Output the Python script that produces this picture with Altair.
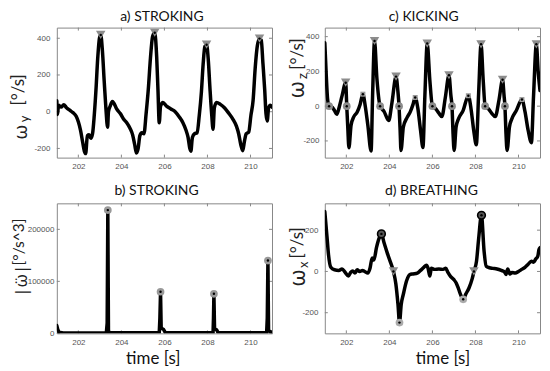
import altair as alt
import pandas as pd

# ---------------- data ----------------
x_ticks = [202, 204, 206, 208, 210]

# a) STROKING  (omega_y, deg/s)
a_t = [201.00, 201.03, 201.08, 201.20, 201.32, 201.45, 201.60, 201.75, 201.90, 202.00,
       202.10, 202.20, 202.28, 202.34, 202.42, 202.50, 202.58, 202.66, 202.74, 202.82,
       202.90, 202.98, 203.04, 203.12, 203.20, 203.28, 203.36, 203.40, 203.48, 203.58,
       203.66, 203.78, 203.95, 204.10, 204.25, 204.40, 204.52, 204.62, 204.70, 204.78,
       204.86, 204.95, 205.05, 205.15, 205.25, 205.35, 205.45, 205.55, 205.64, 205.70,
       205.76, 205.82, 205.93, 206.10, 206.30, 206.50, 206.70, 206.86, 207.00, 207.10,
       207.18, 207.23, 207.30, 207.40, 207.52, 207.62, 207.72, 207.80, 207.88, 207.96,
       208.04, 208.12, 208.20, 208.26, 208.32, 208.42, 208.60, 208.80, 209.00, 209.18,
       209.35, 209.45, 209.55, 209.64, 209.72, 209.80, 209.92, 210.02, 210.12, 210.22,
       210.32, 210.42, 210.50, 210.58, 210.66, 210.72, 210.78, 210.84, 210.92, 211.00]
a_v = [60, -15, 35, 25, 38, 22, 8, -5, -25, -55,
       -100, -165, -215, -228, -130, -125, -145, -120, -20, 120,
       290, 400, 418, 330, 170, 20, -85, 0, 30, 55,
       45, 15, -10, -40, -60, -90, -125, -180, -225, -200,
       -130, -115, -120, -10, 120, 290, 410, 430, 300, 120,
       -60, 30, 50, 30, 15, 0, -30, -60, -100, -140,
       -200, -215, -140, -120, -115, -20, 110, 260, 355, 365,
       280, 120, -20, -95, 20, 50, 40, 20, -10, -40,
       -80, -120, -180, -212, -160, -120, -110, -20, 60, 240,
       360, 398, 390, 260, 120, -10, -50, 20, 35, 25]
a_peak_t = [203.04, 205.55, 207.96, 210.42]
a_peak_v = [418, 430, 365, 398]

# b) STROKING  (|omega''|, deg/s^3)
b_t = [201.00, 201.04, 201.10, 201.30, 203.30, 203.34, 203.37, 203.40, 203.45, 205.76,
       205.79, 205.82, 205.85, 205.95, 206.05, 208.26, 208.28, 208.30, 208.33, 208.42,
       208.50, 210.75, 210.78, 210.81, 210.84, 211.00]
b_v = [15000, 8000, 2000, 600, 600, 20000, 237000, 5000, 1000, 1000,
       30000, 80000, 10000, 8000, 1000, 1000, 30000, 76000, 9000, 7000,
       1000, 1000, 30000, 140000, 5000, 2000]
b_peak_t = [203.37, 205.82, 208.30, 210.81]
b_peak_v = [237000, 80000, 76000, 140000]

# c) KICKING  (omega_z, deg/s)
c_t = [201.00, 201.07, 201.13, 201.20, 201.33, 201.45, 201.56, 201.68, 201.80, 201.97,
       202.02, 202.07, 202.12, 202.22, 202.35, 202.50, 202.64, 202.77, 202.88, 203.00,
       203.15, 203.22, 203.31, 203.42, 203.57, 203.75, 203.97, 204.12, 204.31, 204.40,
       204.45, 204.50, 204.54, 204.65, 204.82, 204.98, 205.10, 205.20, 205.32, 205.45,
       205.56, 205.65, 205.76, 205.88, 206.00, 206.15, 206.30, 206.44, 206.60, 206.77,
       206.86, 206.91, 206.96, 207.01, 207.10, 207.22, 207.42, 207.67, 207.80, 207.92,
       208.04, 208.15, 208.26, 208.36, 208.45, 208.60, 208.75, 208.92, 209.10, 209.26,
       209.33, 209.37, 209.42, 209.47, 209.58, 209.70, 209.90, 210.16, 210.30, 210.45,
       210.60, 210.70, 210.83, 210.92, 211.00]
c_v = [365, 170, 40, 0, -5, -25, -47, 0, 59, 135,
       0, -130, -239, -110, -60, -35, 10, 69, 0, -110,
       -258, 60, 375, 160, 0, -30, -83, 20, 170, 80,
       0, -140, -255, -120, -66, -30, 10, 50, -10, -140,
       -238, 60, 360, 150, 0, -15, -40, -60, 50, 178,
       60, 0, -160, -255, -120, -70, -27, 60, -20, -140,
       -222, 80, 356, 150, 0, -15, -40, -60, 40, 152,
       60, 0, -160, -255, -120, -70, -25, 38, -30, -140,
       -210, 60, 356, 190, 90]
c_tri_t = [201.97, 203.31, 204.31, 205.76, 206.77, 208.26, 209.26, 210.83]
c_tri_v = [135, 375, 170, 360, 178, 356, 152, 356]
c_circ_t = [201.20, 202.02, 203.57, 204.45, 206.00, 206.91, 208.45, 209.37]
c_circ_v = [0, 0, 0, 0, 0, 0, 0, 0]
c_sq_t = [202.77, 205.20, 207.67, 210.16]
c_sq_v = [69, 50, 60, 38]

# d) BREATHING  (omega_x, deg/s)
d_t = [201.00, 201.10, 201.17, 201.28, 201.45, 201.65, 201.80, 201.95, 202.10, 202.20,
       202.30, 202.40, 202.50, 202.62, 202.75, 202.85, 203.00, 203.10, 203.20, 203.28,
       203.40, 203.52, 203.63, 203.75, 203.90, 204.05, 204.19, 204.30, 204.40, 204.47,
       204.55, 204.65, 204.80, 204.95, 205.10, 205.30, 205.45, 205.60, 205.72, 205.80,
       205.88, 205.95, 206.10, 206.30, 206.50, 206.62, 206.72, 206.85, 207.00, 207.10,
       207.20, 207.30, 207.43, 207.55, 207.70, 207.85, 207.93, 208.05, 208.15, 208.28,
       208.40, 208.50, 208.65, 208.80, 209.00, 209.20, 209.35, 209.42, 209.50, 209.60,
       209.70, 209.85, 210.00, 210.15, 210.30, 210.45, 210.60, 210.70, 210.80, 210.90,
       210.95, 211.00]
d_v = [290, 170, 83, 20, 8, 5, 12, -5, -22, -5,
       2, -8, 8, 0, 5, 0, -8, 15, 65, 55,
       115, 160, 182, 140, 90, 45, 0, -60, -160, -248,
       -160, -110, -45, -15, -12, -8, 5, 20, 30, 15,
       -22, 15, 10, 12, 10, 15, -5, -25, -40, -55,
       -80, -110, -135, -110, -80, -35, 0, 50, 160, 272,
       100, 25, 18, 15, 12, 5, -2, -15, 12, -12,
       -5, -8, 0, 10, 20, 35, 50, 45, 60, 75,
       105, 115]
d_max_t = [203.63, 208.28]
d_max_v = [182, 272]
d_min_t = [204.47, 207.43]
d_min_v = [-248, -135]
d_zero_t = [204.19, 207.93]
d_zero_v = [0, 0]

# ---------------- styling ----------------
W, H = 216, 130.5
X_DOM = [201, 211]
TFONT = "Lato, 'Noto Sans', sans-serif"
GFONT = "'Noto Sans', 'DejaVu Sans', sans-serif"
ONE = pd.DataFrame({"k": [0]})
FRAME = "#888888"
MK_GRAY = "#8c8c8c"


def df(t, v):
    return pd.DataFrame({"t": t, "v": v})


def txt(s, rx, ry, size, font=TFONT, angle=None, align="center", color="#111111"):
    kw = dict(text=s, font=font, fontSize=size, align=align, baseline="alphabetic", color=color)
    if angle is not None:
        kw["angle"] = angle
    return alt.Chart(ONE).mark_text(**kw).encode(x=alt.value(rx), y=alt.value(ry))


def panel(t, v, ydom, yticks, interp, lpad, markers, texts, anchor=False):
    xs = alt.Scale(domain=X_DOM, nice=False, zero=False)
    ys = alt.Scale(domain=ydom, nice=False, zero=False)
    xax = alt.Axis(values=x_ticks, title=None, labelPadding=5, labelExpr="toString(datum.value)")
    yax = alt.Axis(values=yticks, title=None, labelPadding=lpad, labelExpr="toString(datum.value)")
    X = alt.X("t:Q", scale=xs, axis=xax)
    Y = alt.Y("v:Q", scale=ys, axis=yax)
    layers = []
    xt = pd.DataFrame({"t": x_ticks})
    yt = pd.DataFrame({"v": yticks})
    layers.append(alt.Chart(xt).mark_rule(color=FRAME, strokeWidth=1).encode(
        x=X, y=alt.value(H), y2=alt.value(H - 3)))
    layers.append(alt.Chart(xt).mark_rule(color=FRAME, strokeWidth=1).encode(
        x=X, y=alt.value(0), y2=alt.value(3)))
    layers.append(alt.Chart(yt).mark_rule(color=FRAME, strokeWidth=1).encode(
        y=Y, x=alt.value(0), x2=alt.value(3)))
    layers.append(alt.Chart(yt).mark_rule(color=FRAME, strokeWidth=1).encode(
        y=Y, x=alt.value(W - 3), x2=alt.value(W)))
    layers.append(alt.Chart(df(t, v)).mark_line(
        color="black", strokeWidth=3.5, interpolate=interp, clip=True,
        strokeJoin="round", strokeCap="round").encode(x=X, y=Y))
    for (mt, mv, shape, size, fill, stroke) in markers:
        kw = dict(shape=shape, size=size, filled=True, fill=fill, opacity=1, fillOpacity=1)
        if stroke:
            kw.update(stroke=stroke, strokeWidth=1.6, strokeOpacity=1)
        layers.append(alt.Chart(df(mt, mv)).mark_point(**kw).encode(x=X, y=Y))
        layers.append(alt.Chart(df(mt, mv)).mark_point(
            shape="circle", size=6, filled=True, fill="black", opacity=1).encode(x=X, y=Y))
    layers.extend(texts)
    if anchor:
        layers.append(alt.Chart(ONE).mark_rect(opacity=0).encode(
            x=alt.value(-47.7), x2=alt.value(-46.7), y=alt.value(-17.8), y2=alt.value(-16.8)))
    return alt.layer(*layers).properties(width=W, height=H)


pa = panel(
    a_t, a_v, [-250, 458], [-200, 0, 200, 400], "monotone", 7,
    [(a_peak_t, a_peak_v, "triangle-down", 90, MK_GRAY, None)],
    [
        txt("a) STROKING", 105.5, -6.6, 14),
        txt("ω", -30.2, 112.5, 19, font=GFONT, angle=270, align="left", color="#222222"),
        txt("y", -28.0, 95.0, 13, angle=270, align="left", color="#222222"),
        txt("[°/s]", -32.7, 78.2, 17, angle=270, align="left", color="#222222"),
    ],
    anchor=True,
)

pc = panel(
    c_t, c_v, [-296, 452], [-200, 0, 200, 400], "monotone", 6,
    [
        (c_tri_t, c_tri_v, "triangle-down", 90, MK_GRAY, None),
        (c_circ_t, c_circ_v, "circle", 60, MK_GRAY, None),
        (c_sq_t, c_sq_v, "square", 25, "#999999", None),
    ],
    [
        txt("c) KICKING", 99.3, -6.6, 14),
        txt("ω", -20.7, 71.2, 22, font=GFONT, angle=270, align="left", color="#222222"),
        txt("z", -17.7, 51.5, 13, angle=270, align="left", color="#222222"),
        txt("[°/s]", -21.7, 42.2, 17, angle=270, align="left", color="#222222"),
    ],
)

pb = panel(
    b_t, b_v, [0, 250000], [0, 100000, 200000], "linear", 3,
    [(b_peak_t, b_peak_v, "circle", 60, "#999999", None)],
    [
        txt("b) STROKING", 100.1, -8.7, 14),
        txt("|ω\u0308|", -30.2, 93.8, 17, font=GFONT, angle=270, align="left", color="#222222"),
        txt("[°/s^3]", -32.7, 62.3, 15.5, angle=270, align="left", color="#222222"),
        txt("time [s]", 96.8, 160.8, 17, color="#111111"),
    ],
)

pd_ = panel(
    d_t, d_v, [-300, 330], [-200, 0, 200], "monotone", 7,
    [
        (d_zero_t, d_zero_v, "triangle-down", 90, MK_GRAY, None),
        (d_min_t, d_min_v, "circle", 60, "#aaaaaa", None),
        (d_max_t, d_max_v, "circle", 60, "#555555", "black"),
    ],
    [
        txt("d) BREATHING", 107, -8.7, 14),
        txt("ω", -20.2, 83.8, 22, font=GFONT, angle=270, align="left", color="#222222"),
        txt("x", -17.2, 64.8, 13, angle=270, align="left", color="#222222"),
        txt("[°/s]", -21.7, 55.3, 17, angle=270, align="left", color="#222222"),
        txt("time [s]", 118.6, 160.8, 17, color="#111111"),
    ],
)

chart = alt.concat(
    pa, pc, pb, pd_, columns=2,
    spacing=alt.RowColnumber(row=45.4, column=53),
    bounds="flush",
).configure_view(
    stroke=FRAME, strokeWidth=1
).configure_axis(
    grid=False, ticks=False, domain=False, labelFont="Liberation Sans",
    labelFontSize=8, labelColor="#555555", labelOverlap=False
).properties(padding=0, background="white")

chart.save("out.html", embed_options={"renderer": "svg", "actions": False})
